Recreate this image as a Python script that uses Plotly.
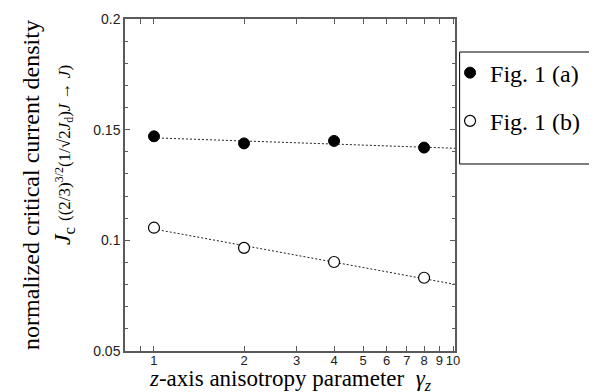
import plotly.graph_objects as go
import numpy as np

# ---- data ----
gamma_z = [1, 2, 4, 8]
fig1a = [0.147, 0.1438, 0.1449, 0.1419]
fig1b = [0.1057, 0.0966, 0.0902, 0.0831]

# dotted guide lines (end points)
fit_x = [1, 10.15]
fit_a = [0.1463, 0.1416]
fit_b = [0.1051, 0.0801]

x_tickvals = [0.9, 1, 2, 3, 4, 5, 6, 7, 8, 9, 10]
x_ticktext = ["", "1", "2", "3", "4", "5", "6", "7", "8", "9", "10"]
y_tickvals = [0.05, 0.1, 0.15, 0.2]
y_ticktext = ["0.05", "0.1", "0.15", "0.2"]

x_title = "<i>z</i>-axis anisotropy parameter\u00a0\u00a0<i>γ<sub>z</sub></i>"
y_title = ("normalized critical current density<br>"
           + "\u00a0" * 10
           + "<i>J</i><sub>c</sub> <span style=\"font-size:17px\">((2/3)<sup>3/2</sup>"
           "(1/√2<i>J</i><sub>d</sub>)<i>J</i> → <i>J</i>)</span>")

SERIF = "Liberation Serif"
SANS = "Liberation Sans"
AX = "#5a5a5a"

fig = go.Figure()

fig.add_trace(go.Scatter(x=fit_x, y=fit_a, mode="lines", showlegend=False,
                         line=dict(color="#222222", width=1, dash="2px,2px"),
                         hoverinfo="skip"))
fig.add_trace(go.Scatter(x=fit_x, y=fit_b, mode="lines", showlegend=False,
                         line=dict(color="#222222", width=1, dash="2px,2px"),
                         hoverinfo="skip"))

fig.add_trace(go.Scatter(x=gamma_z, y=fig1a, mode="markers", name="Fig. 1 (a)",
                         legendgroup="a",
                         marker=dict(symbol="circle", size=11, color="black",
                                     line=dict(color="black", width=1))))
fig.add_trace(go.Scatter(x=gamma_z, y=fig1b, mode="markers", name="Fig. 1 (b)",
                         legendgroup="b",
                         marker=dict(symbol="circle", size=11, color="white",
                                     line=dict(color="black", width=1.2))))

fig.update_layout(
    width=597, height=392,
    margin=dict(l=117, r=150, t=11, b=49, autoexpand=False),
    paper_bgcolor="white", plot_bgcolor="white",
    font=dict(family=SERIF),
    showlegend=True,
    legend=dict(x=0.985, xanchor="left", y=0.905, yanchor="top",
                bgcolor="rgba(0,0,0,0)", borderwidth=0,
                font=dict(family=SERIF, size=24, color="black"),
                tracegroupgap=14, itemwidth=30),
    xaxis=dict(type="log", range=[np.log10(0.8), np.log10(10.15)],
               tickvals=x_tickvals, ticktext=x_ticktext, tickangle=0,
               automargin=False, ticklabelstandoff=-3,
               ticks="inside", ticklen=5, tickcolor=AX, tickwidth=1,
               showline=True, linecolor=AX, linewidth=1.5, mirror="ticks",
               showgrid=False, zeroline=False,
               tickfont=dict(family=SANS, size=13, color="#222222")),
    yaxis=dict(range=[0.05, 0.2], tickvals=y_tickvals, ticktext=y_ticktext,
               automargin=False,
               ticks="inside", ticklen=5, tickcolor=AX, tickwidth=1,
               minor=dict(dtick=0.01, ticks="inside", ticklen=3, tickcolor=AX),
               showline=True, linecolor=AX, linewidth=1.5, mirror="ticks",
               showgrid=False, zeroline=False,
               tickfont=dict(family=SANS, size=14, color="#222222"),
               title=dict(text=y_title,
                          font=dict(family=SERIF, size=24, color="black"),
                          standoff=16)),
    annotations=[dict(text=x_title, xref="paper", yref="paper", x=0.5, y=0,
                      xanchor="center", yanchor="bottom", yshift=-44,
                      showarrow=False, borderpad=0,
                      font=dict(family=SERIF, size=23, color="black"))],
    shapes=[dict(type="rect", xref="paper", yref="paper",
                 x0=1.014, x1=1.6, y0=0.5633, y1=0.9006,
                 line=dict(color="black", width=1), fillcolor="rgba(0,0,0,0)")],
)

fig.write_html("out.html")
